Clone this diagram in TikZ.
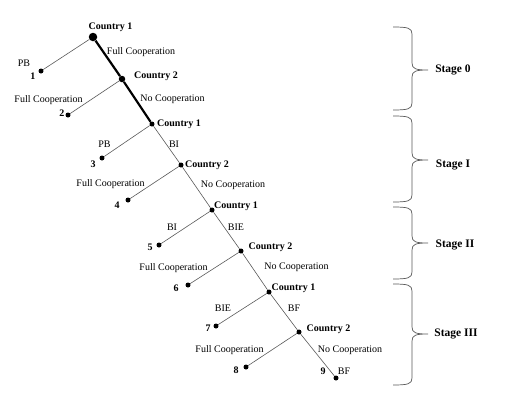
\documentclass[tikz,border=0pt]{standalone}
\usepackage{fontspec}
\setmainfont{Liberation Serif}
\begin{document}
\begin{tikzpicture}[x=1pt,y=-1pt,
  dot/.style={circle,fill=black,inner sep=0pt,minimum size=5pt},
  thinedge/.style={draw=black!65,line width=0.6pt},
  thickedge/.style={draw=black,line width=2.2pt},
  lbl/.style={inner sep=0pt,font=\fontsize{10}{12}\selectfont},
  blbl/.style={inner sep=0pt,font=\fontsize{10}{12}\selectfont\bfseries},
  stage/.style={inner sep=0pt,font=\fontsize{11.5}{13}\selectfont\bfseries},
  bracepath/.style={draw=black!65,line width=0.7pt}]
\useasboundingbox (0,0) rectangle (520,410);
% spine nodes
\node[dot,minimum size=8.5pt] (c1a) at (93,37) {};
\node[dot,minimum size=6.5pt] (c2a) at (122,79) {};
\node[dot] (c1b) at (152,124) {};
\node[dot] (c2b) at (181,165) {};
\node[dot] (c1c) at (212,210) {};
\node[dot] (c2c) at (241,251) {};
\node[dot] (c1d) at (269,292) {};
\node[dot] (c2d) at (299,332) {};
\node[dot] (l9) at (336,378) {};
% leaves
\node[dot] (l1) at (41,71) {};
\node[dot] (l2) at (68,115) {};
\node[dot] (l3) at (102,158) {};
\node[dot] (l4) at (128,200) {};
\node[dot] (l5) at (159,245) {};
\node[dot] (l6) at (188,285) {};
\node[dot] (l7) at (216,326) {};
\node[dot] (l8) at (246,367) {};
% edges
\draw[thickedge] (c1a) -- (c2a) -- (c1b);
\draw[thinedge] (c1b) -- (c2b) -- (c1c) -- (c2c) -- (c1d) -- (c2d) -- (l9);
\draw[thinedge] (c1a) -- (l1);
\draw[thinedge] (c2a) -- (l2);
\draw[thinedge] (c1b) -- (l3);
\draw[thinedge] (c2b) -- (l4);
\draw[thinedge] (c1c) -- (l5);
\draw[thinedge] (c2c) -- (l6);
\draw[thinedge] (c1d) -- (l7);
\draw[thinedge] (c2d) -- (l8);
% player labels
\node[blbl] (t1) at (110.5,27) {Country 1};
\node[blbl] (t2) at (156,76) {Country 2};
\node[blbl] (t3) at (179,124) {Country 1};
\node[blbl] (t4) at (207,165) {Country 2};
\node[blbl] (t5) at (236,206) {Country 1};
\node[blbl] (t6) at (270.5,247) {Country 2};
\node[blbl] (t7) at (293.5,288) {Country 1};
\node[blbl] (t8) at (328.5,329) {Country 2};
% edge labels on the spine
\node[lbl] (e1) at (141,52) {Full Cooperation};
\node[lbl] (e2) at (172.5,99) {No Cooperation};
\node[lbl] (e3) at (174,144) {BI};
\node[lbl] (e4) at (233,185) {No Cooperation};
\node[lbl] (e5) at (236,227) {BIE};
\node[lbl] (e6) at (296.5,267) {No Cooperation};
\node[lbl] (e7) at (294,308) {BF};
\node[lbl] (e8) at (350,350) {No Cooperation};
\node[lbl] (e9) at (344,371) {BF};
% leaf edge labels
\node[lbl] (f1) at (24,63) {PB};
\node[lbl] (f2) at (48.5,100) {Full Cooperation};
\node[lbl] (f3) at (104.5,144) {PB};
\node[lbl] (f4) at (110.5,184) {Full Cooperation};
\node[lbl] (f5) at (172,227) {BI};
\node[lbl] (f6) at (173.5,268) {Full Cooperation};
\node[lbl] (f7) at (223,308) {BIE};
\node[lbl] (f8) at (229.5,350) {Full Cooperation};
% leaf numbers
\node[blbl] (n1) at (33,76) {1};
\node[blbl] (n2) at (62,113) {2};
\node[blbl] (n3) at (93,164) {3};
\node[blbl] (n4) at (117,205) {4};
\node[blbl] (n5) at (150,247) {5};
\node[blbl] (n6) at (176,288) {6};
\node[blbl] (n7) at (208,328) {7};
\node[blbl] (n8) at (236,370) {8};
\node[blbl] (n9) at (323,371) {9};
% braces
\foreach \t/\m/\b in {27/70/110, 116/160/202, 207/243/279, 284/334/385}{
  \draw[bracepath] (393,\t) .. controls (408,\t) and (412,\t+1) .. (412,\t+7)
    -- (412,\m-7) .. controls (412,\m-1) and (416,\m) .. (428,\m)
    .. controls (416,\m) and (412,\m+1) .. (412,\m+7)
    -- (412,\b-7) .. controls (412,\b-1) and (408,\b) .. (393,\b);
}
\node[stage] (s0) at (453,70) {Stage 0};
\node[stage] (s1) at (453,165) {Stage I};
\node[stage] (s2) at (455,245) {Stage II};
\node[stage] (s3) at (456,334) {Stage III};
\end{tikzpicture}
\end{document}
